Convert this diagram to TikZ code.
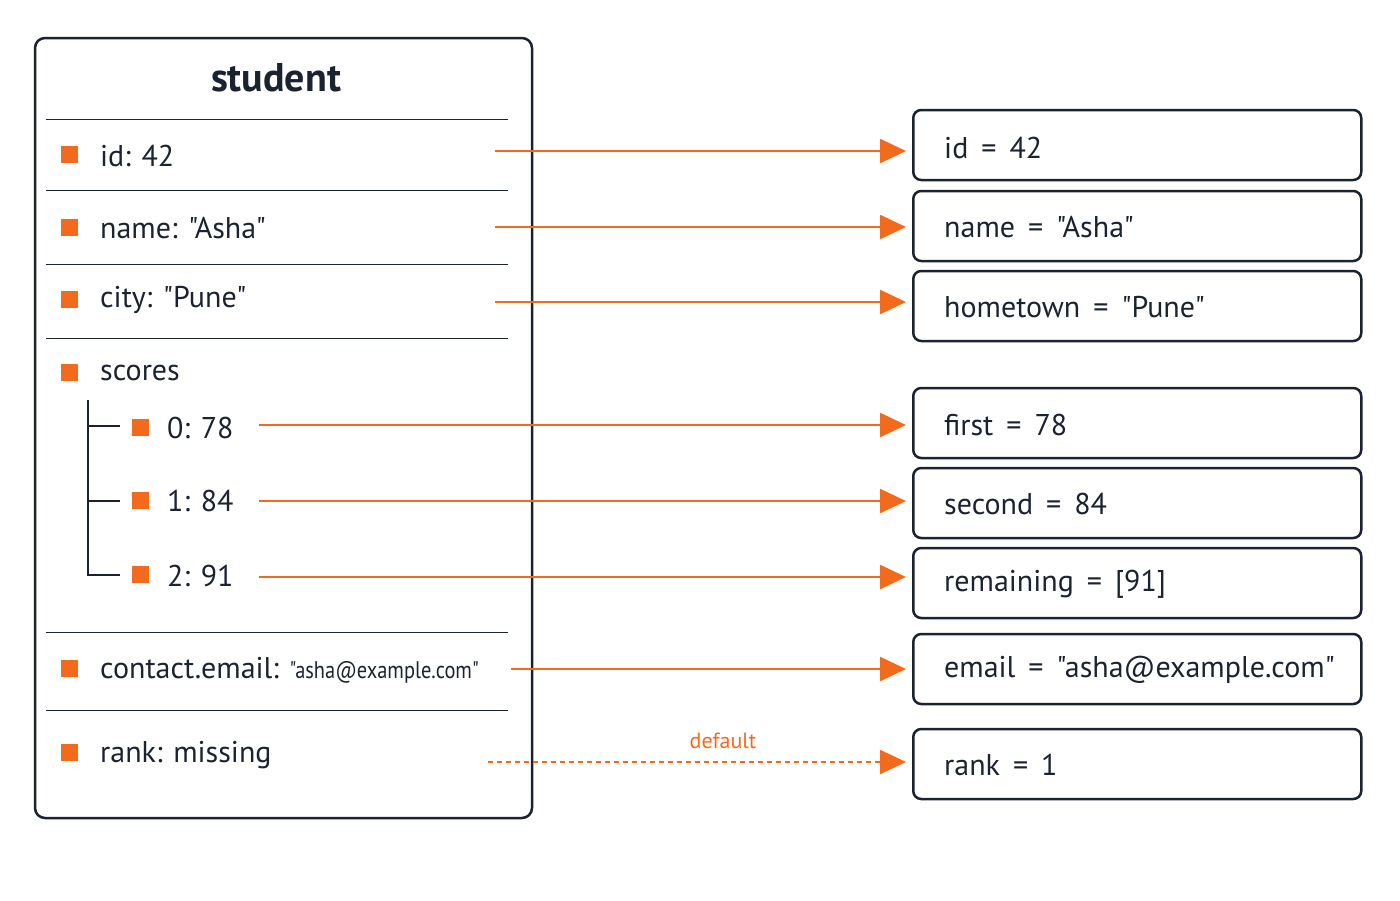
\documentclass[tikz,border=0pt]{standalone}
\usepackage{fontspec}
\setmainfont{PT Sans}[Ligatures=TeXOff]
\usetikzlibrary{arrows.meta}
\definecolor{org}{HTML}{F26B1D}
\definecolor{ink}{HTML}{1B2230}
\newcommand{\qq}{\symbol{34}}
\begin{document}
\begin{tikzpicture}[x=1pt,y=-1pt,
  txt/.style={anchor=west,inner sep=0pt,text=ink,font=\fontsize{30}{32}\selectfont},
  sq/.style={fill=org,minimum size=17pt,inner sep=0pt},
  sep/.style={draw=ink,line width=1pt},
  box/.style={draw=ink,line width=2.5pt,rounded corners=8pt,minimum width=448pt,minimum height=70pt,anchor=west},
  arr/.style={draw=org,line width=2.4pt,-{Triangle[length=26pt,width=24pt]}}]
\useasboundingbox (0,0) rectangle (1400,900);
\draw[ink,line width=2.5pt,rounded corners=10pt] (35,38) rectangle (532,818);
\node[txt,anchor=center,font=\fontsize{40}{42}\selectfont\bfseries] (title) at (276,78) {student};
\foreach \y in {119,190,264,338,632,710} \draw[sep] (46,\y) -- (508,\y);
% items
\node[sq] (s1) at (69,154) {}; \node[txt] (l1) at (100,156) {id: 42};
\node[sq] (s2) at (69,227) {}; \node[txt] (l2) at (100,228) {name: \qq Asha\qq};
\node[sq] (s3) at (69,299) {}; \node[txt] (l3) at (100,300) {city: \qq Pune\qq};
\node[sq] (s4) at (69,372) {}; \node[txt] (l4) at (100,373) {scores};
\node[sq] (s5) at (140,427) {}; \node[txt] (l5) at (167,428) {0: 78};
\node[sq] (s6) at (140,500) {}; \node[txt] (l6) at (167,501) {1: 84};
\node[sq] (s7) at (140,574) {}; \node[txt] (l7) at (167,576) {2: 91};
\node[sq] (s8) at (69,668) {}; \node[txt] (l8) at (100,670) {contact.email: \fontsize{24}{26}\selectfont\addfontfeatures{FakeStretch=0.85}\qq asha@example.com\qq};
\node[sq] (s9) at (69,752) {}; \node[txt] (l9) at (100,755) {rank: missing};
\draw[ink,line width=1.5pt] (88,400) -- (88,575) -- (120,575) (88,426) -- (120,426) (88,501) -- (120,501);
% right boxes
\node[box] (r1) at (912,145) {}; \node[txt] at (944,148) {id \,=\, 42};
\node[box] (r2) at (912,226) {}; \node[txt] at (944,227) {name \,=\, \qq Asha\qq};
\node[box] (r3) at (912,306) {}; \node[txt] at (944,307) {hometown \,=\, \qq Pune\qq};
\node[box] (r4) at (912,423) {}; \node[txt] at (944,425) {first \,=\, 78};
\node[box] (r5) at (912,503) {}; \node[txt] at (944,504) {second \,=\, 84};
\node[box] (r6) at (912,583) {}; \node[txt] at (944,584) {remaining \,=\, [91]};
\node[box] (r7) at (912,669) {}; \node[txt] at (944,670) {email \,=\, \qq asha@example.com\qq};
\node[box] (r8) at (912,764) {}; \node[txt] at (944,765) {rank \,=\, 1};
% arrows
\coordinate (a1) at (495,151); \coordinate (a2) at (495,227); \coordinate (a3) at (495,302);
\coordinate (a4) at (259,425); \coordinate (a5) at (259,501); \coordinate (a6) at (259,577);
\coordinate (a7) at (511,669); \coordinate (a8) at (488,762);
\draw[arr,shorten >=6pt] (a1) -- (r1.west |- a1);
\draw[arr,shorten >=6pt] (a2) -- (r2.west |- a2);
\draw[arr,shorten >=6pt] (a3) -- (r3.west |- a3);
\draw[arr,shorten >=6pt] (a4) -- (r4.west |- a4);
\draw[arr,shorten >=6pt] (a5) -- (r5.west |- a5);
\draw[arr,shorten >=6pt] (a6) -- (r6.west |- a6);
\draw[arr,shorten >=6pt] (a7) -- (r7.west |- a7);
\draw[arr,shorten >=6pt,dash pattern=on 5pt off 4pt] (a8) -- (r8.west |- a8);
\node[text=org,font=\fontsize{22}{24}\selectfont] (dl) at (723,741) {default};
\end{tikzpicture}
\end{document}
